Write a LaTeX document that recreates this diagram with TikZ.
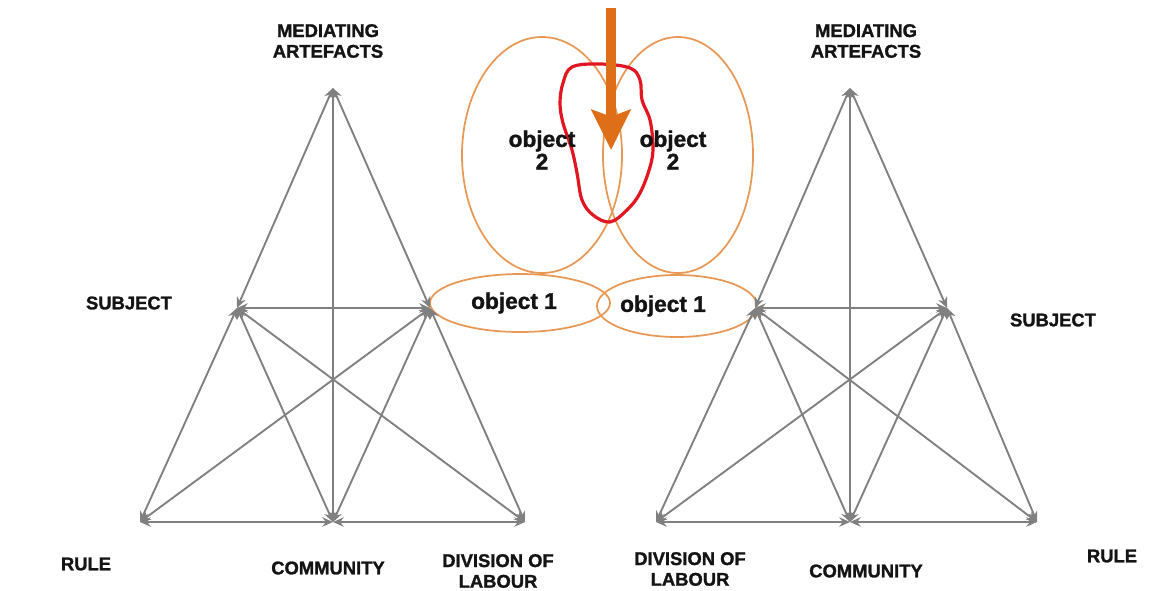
\documentclass[tikz,border=0pt]{standalone}
\usepackage{fontspec}
\setmainfont{Liberation Sans}[BoldFeatures={FakeBold=1.4}]
\usetikzlibrary{arrows.meta, shapes.geometric}
\definecolor{ASGray}{RGB}{128, 128, 128}
\definecolor{ASObject}{RGB}{232, 152, 84}
\definecolor{ASRed}{RGB}{226, 22, 32}
\definecolor{ASOrange}{RGB}{222, 110, 24}
\definecolor{ASText}{RGB}{20, 20, 20}

\tikzset{
  link/.style={ASGray, line width=1.4pt,
    {Stealth[length=8pt,width=7pt]}-{Stealth[length=8pt,width=7pt]}},
  corner/.style={ASText, font=\fontsize{13.8}{15.5}\selectfont\bfseries, align=center},
  objtext/.style={ASText, font=\fontsize{17}{18}\selectfont\bfseries, align=center},
  ring/.style={ASObject, line width=1.3pt},
}

\begin{document}
\begin{tikzpicture}[x=0.75pt,y=-0.75pt]
  \path[use as bounding box] (0,0) rectangle (1162,590);
  \fill[white] (0,0) rectangle (1162,590);

  % left activity system
  \coordinate (lA) at (333,88);
  \coordinate (lS) at (237,308);
  \coordinate (lO) at (430,308);
  \coordinate (lR) at (140,522);
  \coordinate (lC) at (333,522);
  \coordinate (lD) at (525,522);
  % right activity system
  \coordinate (rA) at (850,88);
  \coordinate (rO) at (755,308);
  \coordinate (rS) at (947,308);
  \coordinate (rD) at (656,522);
  \coordinate (rC) at (850,522);
  \coordinate (rR) at (1037,522);

  % shared objects
  \draw[ring] (542,155) ellipse [x radius=80, y radius=118];
  \draw[ring] (678,155) ellipse [x radius=75, y radius=118];
  \draw[ring] (520,303) ellipse [x radius=90, y radius=29];
  \draw[ring] (677,306) ellipse [x radius=80, y radius=31];

  \foreach \a/\b in {lA/lS, lA/lO, lA/lC, lS/lO, lS/lR, lS/lC, lS/lD,
                     lO/lR, lO/lC, lO/lD, lR/lC, lC/lD}{
    \draw[link] (\a) -- (\b);
  }
  \foreach \a/\b in {rA/rO, rA/rS, rA/rC, rO/rS, rO/rD, rO/rC, rO/rR,
                     rS/rD, rS/rC, rS/rR, rD/rC, rC/rR}{
    \draw[link] (\a) -- (\b);
  }

  % object 3
  \draw[ASRed, line width=2.4pt] plot[smooth cycle, tension=0.6] coordinates {
    (572,67) (600,64) (630,68) (640,80) (642,100) (650,120) (653,147)
    (650,167) (640,193) (627,210) (610,222) (593,215) (582,200)
    (577,173) (572,150) (563,123) (560,103) (563,83)};

  \node[objtext] (obj2l) at (542,150) {object\\[-1pt]2};
  \node[objtext] (obj2r) at (673,150) {object\\[-1pt]2};
  \node[objtext] (obj1l) at (514,303) {object 1};
  \node[objtext] (obj1r) at (663,306) {object 1};

  \coordinate (dropTop) at (611,8);
  \coordinate (dropTip) at (611,150);
  \draw[ASOrange, line width=7.5pt,
    -{Stealth[length=30pt,width=29pt,inset=5pt]}] (dropTop) -- (dropTip);

  % labels, left
  \node[corner] (lArt) at (328,41) {MEDIATING\\ARTEFACTS};
  \node[corner] (lSub) at (129,303) {SUBJECT};
  \node[corner] (lRule) at (86,564) {RULE};
  \node[corner] (lCom) at (328,568) {COMMUNITY};
  \node[corner] (lDiv) at (498,571) {DIVISION OF\\LABOUR};
  % labels, right
  \node[corner] (rArt) at (866,41) {MEDIATING\\ARTEFACTS};
  \node[corner] (rSub) at (1053,320) {SUBJECT};
  \node[corner] (rDiv) at (690,569) {DIVISION OF\\LABOUR};
  \node[corner] (rCom) at (866,571) {COMMUNITY};
  \node[corner] (rRule) at (1112,556) {RULE};
\end{tikzpicture}
\end{document}
